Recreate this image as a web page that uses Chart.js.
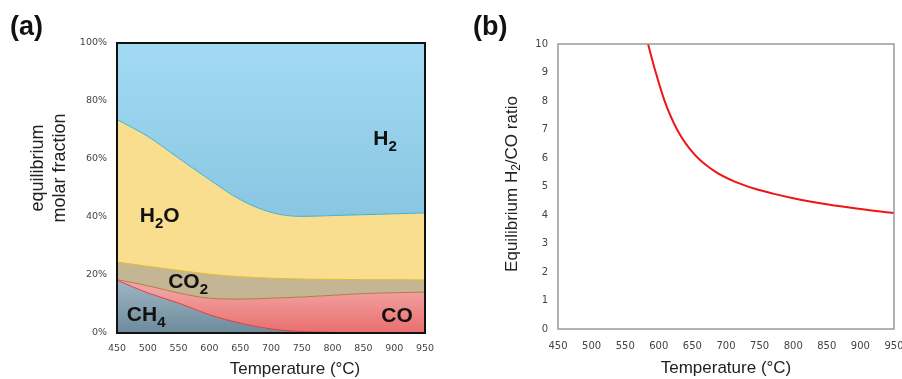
<!DOCTYPE html>
<html>
<head>
<meta charset="utf-8">
<script src="https://cdn.jsdelivr.net/npm/chart.js@4.4.1/dist/chart.umd.min.js"></script>
<style>
  html, body { margin: 0; padding: 0; background: #fff; }
  #wrap { position: relative; width: 902px; height: 379px; overflow: hidden; }
  canvas { position: absolute; top: 0; }
  #chartA { left: 0; }
  #chartB { left: 450px; }
</style>
</head>
<body>
<div id="wrap">
  <canvas id="chartA" width="450" height="379"></canvas>
  <canvas id="chartB" width="452" height="379"></canvas>
</div>
<script>
'use strict';

// ── (a) equilibrium molar fractions, % (stacked bottom → top)
const temps = [450, 500, 550, 600, 650, 700, 750, 800, 850, 900, 950];
const ch4   = [18.2, 13.8, 10.3, 6.3, 3.4, 1.4, 0.5, 0.2, 0, 0, 0];
const co    = [0.2, 2.5, 3.5, 5.7, 8.3, 10.6, 11.9, 12.8, 13.6, 13.9, 14.1];
const co2   = [6.1, 6.7, 7.8, 8.3, 7.7, 6.9, 6.2, 5.5, 4.8, 4.5, 4.2];
const h2o   = [49.1, 44.8, 38.7, 32.6, 26.6, 22.7, 21.6, 22.0, 22.4, 22.7, 23.1];
const h2    = [26.4, 32.2, 39.7, 47.1, 54.0, 58.4, 59.8, 59.5, 59.2, 58.9, 58.6];

// ── (b) equilibrium H2/CO ratio
const ratioTemps = [584, 594, 609, 629, 654, 684, 713, 743, 770, 800, 850, 900, 950];
const ratio      = [10, 9.12, 7.98, 6.92, 6.1, 5.52, 5.17, 4.92, 4.75, 4.59, 4.38, 4.21, 4.07];

const TICK_FONT = 'DejaVu Sans, sans-serif';
const TITLE_FONT = '"Liberation Sans", Arial, sans-serif';
const TICK_COLOR = '#444';

const pts = (xs, ys) => xs.map((x, i) => ({ x, y: ys[i] }));

// vertical gradient between two data values of the y axis
function vGrad(c1, c2, vTop, vBottom) {
  return (context) => {
    const { ctx, chartArea, scales } = context.chart;
    if (!chartArea) return c1;
    const g = ctx.createLinearGradient(0, scales.y.getPixelForValue(vTop), 0, scales.y.getPixelForValue(vBottom));
    g.addColorStop(0, c1);
    g.addColorStop(1, c2);
    return g;
  };
}

// draw text like H2O with subscripts; parts = [[text, isSub], ...]
function chemWidth(ctx, parts, size, weight, family) {
  let w = 0;
  parts.forEach(([t, sub]) => {
    ctx.font = `${weight} ${sub ? Math.round(size * 0.72) : size}px ${family}`;
    w += ctx.measureText(t).width;
  });
  return w;
}
function drawChem(ctx, parts, x, y, size, weight, family) {
  parts.forEach(([t, sub]) => {
    ctx.font = `${weight} ${sub ? Math.round(size * 0.72) : size}px ${family}`;
    ctx.fillText(t, x, sub ? y + size * 0.28 : y);
    x += ctx.measureText(t).width;
  });
}

// species names, placed in data units (temperature, %)
const nameLabels = [
  { parts: [['H', false], ['2', true]], t: 866, v: 64.8 },
  { parts: [['H', false], ['2', true], ['O', false]], t: 487, v: 38.4 },
  { parts: [['CO', false], ['2', true]], t: 533, v: 15.5 },
  { parts: [['CH', false], ['4', true]], t: 466, v: 4.2 },
  { parts: [['CO', false]], t: 879, v: 3.9 },
];

const decorA = {
  id: 'decorA',
  afterDraw(chart) {
    const { ctx, chartArea: a, scales } = chart;
    ctx.save();
    // black frame
    ctx.strokeStyle = '#111';
    ctx.lineWidth = 2;
    ctx.strokeRect(a.left, a.top, a.right - a.left, a.bottom - a.top);

    ctx.fillStyle = '#111';
    ctx.textBaseline = 'alphabetic';
    ctx.textAlign = 'left';
    nameLabels.forEach(l => {
      drawChem(ctx, l.parts, scales.x.getPixelForValue(l.t), scales.y.getPixelForValue(l.v), 21, 'bold', TITLE_FONT);
    });

    // panel letter
    ctx.font = `bold 27px ${TITLE_FONT}`;
    ctx.fillText('(a)', 10, 35);

    // axis titles
    ctx.fillStyle = '#222';
    ctx.textAlign = 'center';
    ctx.textBaseline = 'middle';
    ctx.font = `17px ${TITLE_FONT}`;
    ctx.fillText('Temperature (°C)', 295, 369);
    ctx.save();
    ctx.translate(38, 168);
    ctx.rotate(-Math.PI / 2);
    ctx.font = `18px ${TITLE_FONT}`;
    ctx.fillText('equilibrium', 0, 0);
    ctx.fillText('molar fraction', 0, 22);
    ctx.restore();
    ctx.restore();
  }
};

const decorB = {
  id: 'decorB',
  afterDraw(chart) {
    const { ctx, chartArea: a } = chart;
    ctx.save();
    ctx.strokeStyle = '#999';
    ctx.lineWidth = 1.5;
    ctx.strokeRect(a.left, a.top, a.right - a.left, a.bottom - a.top);

    ctx.fillStyle = '#111';
    ctx.textBaseline = 'alphabetic';
    ctx.textAlign = 'left';
    ctx.font = `bold 27px ${TITLE_FONT}`;
    ctx.fillText('(b)', 23, 35);

    ctx.fillStyle = '#222';
    ctx.textAlign = 'center';
    ctx.textBaseline = 'middle';
    ctx.font = `17px ${TITLE_FONT}`;
    ctx.fillText('Temperature (°C)', 276, 368);

    // rotated y title with subscript
    const parts = [['Equilibrium H', false], ['2', true], ['/CO ratio', false]];
    const w = chemWidth(ctx, parts, 17, 'normal', TITLE_FONT);
    ctx.translate(62, 184);
    ctx.rotate(-Math.PI / 2);
    ctx.textAlign = 'left';
    ctx.textBaseline = 'middle';
    drawChem(ctx, parts, -w / 2, 0, 17, 'normal', TITLE_FONT);
    ctx.restore();
  }
};

function tickOpts(extra) {
  return Object.assign({
    font: { family: TICK_FONT, size: 9.5 },
    color: TICK_COLOR,
    maxRotation: 0,
    autoSkip: false,
  }, extra);
}

// ──────────────────────────────────────────────────────────────
//  Panel (a): stacked areas
// ──────────────────────────────────────────────────────────────
const layer = (label, data, fill, bg, border) => ({
  label,
  data: pts(temps, data),
  fill,
  backgroundColor: bg,
  borderColor: border,
  borderWidth: border ? 1 : 0,
  pointRadius: 0,
  cubicInterpolationMode: 'monotone',
});

new Chart(document.getElementById('chartA'), {
  type: 'line',
  data: {
    datasets: [
      layer('CH4', ch4, 'origin', vGrad('#a0b8c7', '#6e8b9b', 19, 0), '#e03a3a'),
      layer('CO', co, '-1', vGrad('#f2a2a2', '#e96e6e', 15, 0), '#b27c3c'),
      layer('CO2', co2, '-1', '#c4b694', '#e4bc2c'),
      layer('H2O', h2o, '-1', '#f9de8f', '#3eb2d2'),
      layer('H2', h2, '-1', vGrad('#a3daf3', '#89c6e2', 100, 40), null),
    ],
  },
  options: {
    responsive: false,
    animation: false,
    events: [],
    layout: { padding: { top: 43, right: 25, left: 0, bottom: 0 } },
    plugins: { legend: { display: false }, tooltip: { enabled: false } },
    scales: {
      x: {
        type: 'linear', min: 450, max: 950,
        grid: { display: false, drawTicks: false },
        border: { display: false },
        ticks: tickOpts({ stepSize: 50, padding: 10 }),
        afterFit(s) { s.height = 46; s.paddingLeft = 0; s.paddingRight = 0; },
      },
      y: {
        stacked: true, min: 0, max: 100,
        grid: { display: false, drawTicks: false },
        border: { display: false },
        ticks: tickOpts({ stepSize: 20, padding: 10, callback: v => v + '%' }),
        afterFit(s) { s.width = 117; s.paddingTop = 0; s.paddingBottom = 0; },
      },
    },
  },
  plugins: [decorA],
});

// ──────────────────────────────────────────────────────────────
//  Panel (b): H2/CO ratio line
// ──────────────────────────────────────────────────────────────
new Chart(document.getElementById('chartB'), {
  type: 'line',
  data: {
    datasets: [{
      label: 'H2/CO',
      data: pts(ratioTemps, ratio),
      borderColor: '#f01414',
      borderWidth: 2,
      pointRadius: 0,
      fill: false,
      cubicInterpolationMode: 'monotone',
    }],
  },
  options: {
    responsive: false,
    animation: false,
    events: [],
    layout: { padding: { top: 44, right: 8, left: 0, bottom: 0 } },
    plugins: { legend: { display: false }, tooltip: { enabled: false } },
    scales: {
      x: {
        type: 'linear', min: 450, max: 950,
        grid: { display: false, drawTicks: false },
        border: { display: false },
        ticks: tickOpts({ stepSize: 50, padding: 11, font: { family: TICK_FONT, size: 10 } }),
        afterFit(s) { s.height = 50; s.paddingLeft = 0; s.paddingRight = 0; },
      },
      y: {
        min: 0, max: 10,
        grid: { display: false, drawTicks: false },
        border: { display: false },
        ticks: tickOpts({ stepSize: 1, padding: 10, font: { family: TICK_FONT, size: 10 } }),
        afterFit(s) { s.width = 108; s.paddingTop = 0; s.paddingBottom = 0; },
      },
    },
  },
  plugins: [decorB],
});
</script>
</body>
</html>
